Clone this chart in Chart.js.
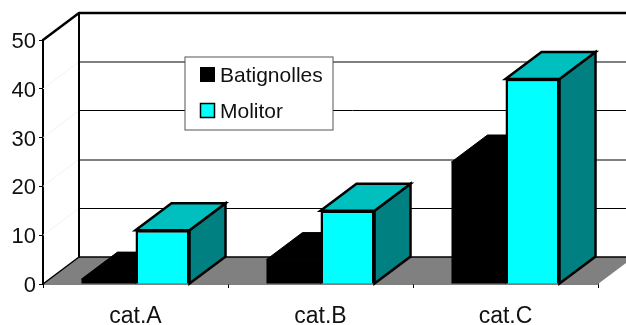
<!DOCTYPE html>
<html>
<head>
<meta charset="utf-8">
<script src="https://cdn.jsdelivr.net/npm/chart.js@4"></script>
<style>html,body{margin:0;padding:0;background:#fff}canvas{display:block}</style>
</head>
<body>
<canvas id="c" width="626" height="325"></canvas>
<script>
const categories = ['cat.A', 'cat.B', 'cat.C'];
const batignolles = [1, 5, 25];
const molitor = [11, 15, 42];
const seriesNames = ['Batignolles', 'Molitor'];

const DX = 36, DY = -27;
const FONT = '"Liberation Sans", Arial, sans-serif';

function poly(ctx, pts, fill, stroke, lw) {
  ctx.beginPath();
  pts.forEach((p, i) => i ? ctx.lineTo(p[0], p[1]) : ctx.moveTo(p[0], p[1]));
  ctx.closePath();
  if (fill) { ctx.fillStyle = fill; ctx.fill(); }
  if (stroke) { ctx.strokeStyle = stroke; ctx.lineWidth = lw; ctx.lineJoin = 'miter'; ctx.stroke(); }
}
function seg(ctx, x1, y1, x2, y2, color, lw) {
  ctx.beginPath(); ctx.moveTo(x1, y1); ctx.lineTo(x2, y2);
  ctx.strokeStyle = color; ctx.lineWidth = lw; ctx.stroke();
}

const scene3d = {
  id: 'scene3d',
  beforeDatasetsDraw(chart) {
    const { ctx, chartArea: a, scales: { y } } = chart;
    const W = chart.width;
    ctx.save();
    // floor
    poly(ctx, [[a.left, a.bottom], [a.left + DX, a.bottom + DY], [W + 10, a.bottom + DY], [a.right + DX, a.bottom + DY], [a.right, a.bottom]], '#808080');
    seg(ctx, a.left + DX, a.bottom + DY, W, a.bottom + DY, '#000', 1.5);
    // side wall and back wall gridlines
    y.ticks.forEach(t => {
      const py = y.getPixelForValue(t.value);
      if (t.value > 0 && t.value < 50) {
        seg(ctx, a.left, py, a.left + DX, py + DY, '#f2f2f2', 1);
        const gy = py + DY;
        if (t.value % 20 === 0) seg(ctx, a.left + DX, Math.ceil(gy), W, Math.ceil(gy), '#808080', 2);
        else seg(ctx, a.left + DX, Math.floor(gy) + 0.5, W, Math.floor(gy) + 0.5, '#000', 1);
      }
    });
    // walls
    seg(ctx, a.left + DX, a.top + DY, W, a.top + DY, '#000', 2.5);
    seg(ctx, a.left + DX, a.top + DY, a.left + DX, a.bottom + DY, '#000', 2);
    ctx.lineCap = 'round';
    seg(ctx, a.left, a.top, a.left + DX, a.top + DY, '#000', 2.5);
    seg(ctx, a.left, a.bottom, a.left + DX, a.bottom + DY, '#000', 1.5);
    ctx.lineCap = 'butt';
    // bar extrusions
    const styles = [
      { top: '#000', side: '#000', line: '#000', lw: 1 },
      { top: '#00BFBF', side: '#008080', line: '#000', lw: 2.5 }
    ];
    chart.data.datasets.forEach((ds, di) => {
      const s = styles[di];
      chart.getDatasetMeta(di).data.forEach(bar => {
        const l = bar.x - bar.width / 2, r = bar.x + bar.width / 2, t = bar.y, b = bar.base;
        poly(ctx, [[r, t], [r + DX, t + DY], [r + DX, b + DY], [r, b]], s.side, s.line, s.lw);
        poly(ctx, [[l, t], [l + DX, t + DY], [r + DX, t + DY], [r, t]], s.top, s.line, s.lw);
      });
    });
    ctx.restore();
  },
  afterDraw(chart) {
    const { ctx } = chart;
    ctx.save();
    // legend
    ctx.fillStyle = '#fff';
    ctx.fillRect(185, 57, 148, 73);
    ctx.strokeStyle = '#555';
    ctx.lineWidth = 1;
    ctx.strokeRect(185, 57, 148, 73);
    ctx.fillStyle = '#000';
    ctx.fillRect(200, 67, 15, 15);
    ctx.fillStyle = '#00FFFF';
    ctx.fillRect(200.5, 103.5, 14, 14);
    ctx.strokeStyle = '#000';
    ctx.lineWidth = 1.5;
    ctx.strokeRect(200.5, 103.5, 14, 14);
    ctx.fillStyle = '#111';
    ctx.font = '21px ' + FONT;
    ctx.textBaseline = 'alphabetic';
    ctx.textAlign = 'left';
    chart.data.datasets.forEach((ds, i) => ctx.fillText(ds.label, 220, i ? 118 : 82));
    ctx.restore();
  }
};

new Chart(document.getElementById('c'), {
  type: 'bar',
  data: {
    labels: categories,
    datasets: [
      { label: seriesNames[0], data: batignolles, backgroundColor: '#000', borderColor: '#000', borderWidth: 0 },
      { label: seriesNames[1], data: molitor, backgroundColor: '#00FFFF', borderColor: '#000', borderWidth: 2.5 }
    ]
  },
  plugins: [scene3d],
  options: {
    responsive: false,
    animation: false,
    layout: { padding: { top: 40, right: 28, left: 0, bottom: 0 } },
    datasets: { bar: { categoryPercentage: 0.584, barPercentage: 1 } },
    plugins: { legend: { display: false }, tooltip: { enabled: false } },
    scales: {
      x: {
        afterFit(s) { s.height = 41; },
        grid: { drawOnChartArea: false, drawTicks: true, tickLength: 4, color: '#000', offset: true },
        border: { color: '#000', width: 1.5 },
        ticks: { color: '#111', font: { family: FONT, size: 23 }, padding: 15, maxRotation: 0 }
      },
      y: {
        min: 0, max: 50,
        afterFit(s) { s.width = 43; },
        grid: { drawOnChartArea: false, drawTicks: true, tickLength: 4, color: '#000' },
        border: { color: '#000', width: 2 },
        ticks: { stepSize: 10, color: '#111', font: { family: FONT, size: 22 }, padding: 3, labelOffset: 2 }
      }
    }
  }
});
</script>
</body>
</html>
